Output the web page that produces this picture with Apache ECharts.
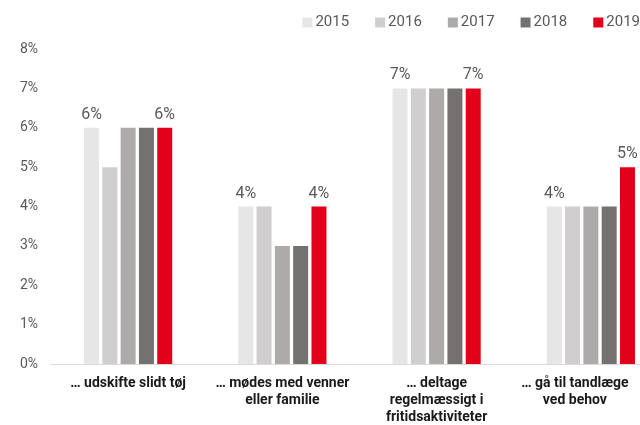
<!DOCTYPE html>
<html><head><meta charset="utf-8">
<script src="https://cdn.jsdelivr.net/npm/echarts@6/dist/echarts.min.js"></script>
<style>html,body{margin:0;padding:0;background:#fff}#c{width:640px;height:425px}</style>
</head><body><div id="c"></div>
<script>
const categories = ["… udskifte slidt tøj", "… mødes med venner\neller familie", "… deltage\nregelmæssigt i\nfritidsaktiviteter", "… gå til tandlæge\nved behov"];
const years = ["2015", "2016", "2017", "2018", "2019"];
const v2015 = [6, 4, 7, 4];
const v2016 = [5, 4, 7, 4];
const v2017 = [6, 3, 7, 4];
const v2018 = [6, 3, 7, 4];
const v2019 = [6, 4, 7, 5];
const yTicks = [0, 1, 2, 3, 4, 5, 6, 7, 8];
const colors = ["#e6e6e6", "#d0cece", "#aeaaaa", "#767171", "#e3001b"];
const values = [v2015, v2016, v2017, v2018, v2019];
const labelled = [true, false, false, false, true];

const catStyle = {fontFamily: 'Roboto', fontWeight: 'bold', fontSize: 14, color: '#1a1a1a', lineHeight: 17};

const chart = echarts.init(document.getElementById('c'));
chart.setOption({
  animation: false,
  textStyle: {fontFamily: 'Roboto'},
  legend: {
    right: 0, top: 15, padding: 0, itemWidth: 10, itemHeight: 10, itemGap: 26,
    icon: 'rect',
    textStyle: {fontSize: 15, color: '#595959', padding: [0, 0, 0, -2]},
    data: years
  },
  grid: {left: 51, width: 617, top: 49, bottom: 61, containLabel: false, outerBoundsMode: 'none'},
  xAxis: {
    type: 'category', data: categories,
    axisLine: {lineStyle: {color: '#d9d9d9', width: 1}},
    axisTick: {show: false},
    axisLabel: Object.assign({
      interval: 0, margin: 11,
      formatter: (v, i) => i === categories.length - 1
        ? v.split('\n').map(l => '{s|' + l + '}').join('\n') : v,
      rich: {s: Object.assign({padding: [0, 32, 0, 0]}, catStyle)}
    }, catStyle)
  },
  yAxis: {
    type: 'value', min: yTicks[0], max: yTicks[yTicks.length - 1], interval: 1,
    splitLine: {show: false},
    axisLine: {show: false}, axisTick: {show: false},
    axisLabel: {formatter: '{value}%', fontSize: 14, color: '#595959', margin: 13}
  },
  series: years.map((y, i) => ({
    name: y, type: 'bar', data: values[i],
    barWidth: 15, barGap: '22%',
    itemStyle: {color: colors[i]},
    label: {show: labelled[i], position: 'top', formatter: '{c}%', fontSize: 16, color: '#595959', distance: 5}
  }))
});
</script></body></html>
